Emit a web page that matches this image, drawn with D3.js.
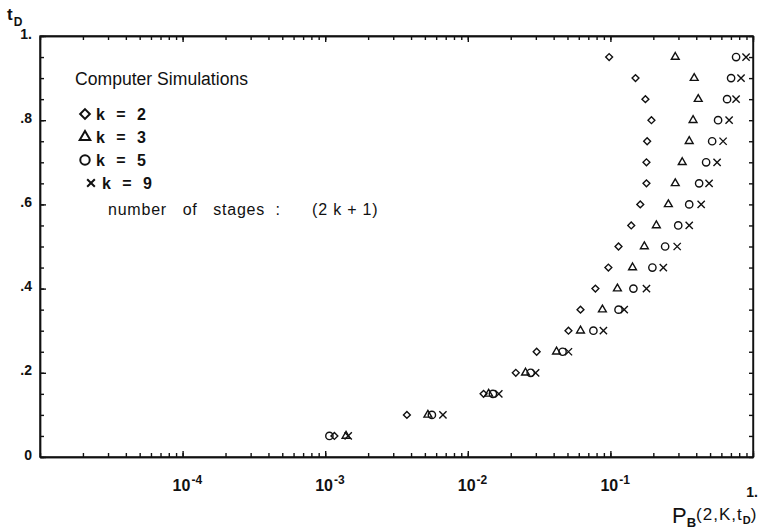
<!DOCTYPE html>
<head>
	<meta charset="utf-8">
	<title>Computer Simulations</title>
<style>
	body {
		margin:0;
		background-color:#ffffff;
	}
	svg {
		display:block;
		font-family:"Liberation Sans", Arial, sans-serif;
	}
	.axis path, .axis line {
		stroke:#111;
		stroke-width:1.4px;
	}
	.axis text {
		font-size:14px;
		font-weight:bold;
		fill:#111;
	}
	.mark {
		fill:none;
		stroke:#111;
		stroke-width:1.4px;
	}
	.lbl {
		fill:#111;
	}
</style>
</head>
<body>
<script src="https://cdn.jsdelivr.net/npm/d3@7"></script>
<script>
	var width = 773;
	var height = 529;

	// t_D values of the simulation rows
	var tD = [0.05, 0.10, 0.15, 0.20, 0.25, 0.30, 0.35, 0.40, 0.45, 0.50,
	          0.55, 0.60, 0.65, 0.70, 0.75, 0.80, 0.85, 0.90, 0.95];

	// P_B(2,k,t_D), one array per k
	var pK2 = [0.00116, 0.00374, 0.0129, 0.0217, 0.0304, 0.0508, 0.0617, 0.0785, 0.0968, 0.114,
	           0.140, 0.162, 0.179, 0.179, 0.181, 0.194, 0.176, 0.150, 0.098];
	var pK3 = [0.00140, 0.00525, 0.0140, 0.0254, 0.0419, 0.0617, 0.0879, 0.112, 0.143, 0.173,
	           0.210, 0.255, 0.285, 0.319, 0.357, 0.380, 0.413, 0.387, 0.285];
	var pK5 = [0.00107, 0.00560, 0.0150, 0.0276, 0.0462, 0.0760, 0.114, 0.145, 0.197, 0.242,
	           0.299, 0.357, 0.419, 0.469, 0.517, 0.569, 0.658, 0.702, 0.761];
	var pK9 = [0.00145, 0.00669, 0.0165, 0.0299, 0.0508, 0.0893, 0.125, 0.179, 0.235, 0.294,
	           0.357, 0.433, 0.492, 0.560, 0.617, 0.680, 0.761, 0.824, 0.894];

	var kValues = [2, 3, 5, 9];

	// tick labels
	var yTickVals = [0, 0.2, 0.4, 0.6, 0.8, 1];
	var yTickLabels = ["0", ".2", ".4", ".6", ".8", "1."];
	var yMinorVals = d3.range(0, 1.0001, 0.05);
	var xTickVals = [1e-4, 1e-3, 1e-2, 1e-1, 1];
	var xTickExps = ["-4", "-3", "-2", "-1", ""];

	var svg = d3.select("body").append("svg")
		.attr("width", width)
		.attr("height", height);

	var x = d3.scaleLog()
		.domain([1e-5, 1])
		.range([40, 753]);

	var y = d3.scaleLinear()
		.domain([0, 1])
		.range([457, 36]);

	var symbols = {
		2: d3.symbol().type(d3.symbolDiamond2).size(30),
		3: d3.symbol().type(d3.symbolTriangle2).size(44),
		5: d3.symbol().type(d3.symbolCircle).size(42),
		9: d3.symbol().type(d3.symbolTimes).size(36)
	};
	var legendSymbols = {
		2: d3.symbol().type(d3.symbolDiamond2).size(60),
		3: d3.symbol().type(d3.symbolTriangle2).size(80),
		5: d3.symbol().type(d3.symbolCircle).size(70),
		9: d3.symbol().type(d3.symbolTimes).size(40)
	};

	// frame
	svg.append("rect")
		.attr("x", 40)
		.attr("y", 36)
		.attr("width", 753 - 40)
		.attr("height", 457 - 36)
		.attr("fill", "none")
		.attr("stroke", "#111")
		.attr("stroke-width", 1.4);

	// bottom and top log ticks (pointing inward)
	var minorX = x.ticks();
	svg.append("g").attr("class", "axis")
		.attr("transform", "translate(0,457)")
		.call(d3.axisBottom(x).tickValues(minorX).tickSizeInner(-4).tickSizeOuter(0).tickFormat(""));
	svg.append("g").attr("class", "axis")
		.attr("transform", "translate(0,457)")
		.call(d3.axisBottom(x).tickValues(xTickVals).tickSizeInner(-6).tickSizeOuter(0).tickFormat(""));
	svg.append("g").attr("class", "axis")
		.attr("transform", "translate(0,36)")
		.call(d3.axisTop(x).tickValues(minorX).tickSizeInner(-4).tickSizeOuter(0).tickFormat(""));
	svg.append("g").attr("class", "axis")
		.attr("transform", "translate(0,36)")
		.call(d3.axisTop(x).tickValues(xTickVals).tickSizeInner(-6).tickSizeOuter(0).tickFormat(""));

	// left axis
	svg.append("g").attr("class", "axis")
		.attr("transform", "translate(40,0)")
		.call(d3.axisLeft(y).tickValues(yMinorVals).tickSizeInner(-4).tickSizeOuter(0).tickFormat(""));
	var yAxisG = svg.append("g").attr("class", "axis")
		.attr("transform", "translate(40,0)")
		.call(d3.axisLeft(y).tickValues(yTickVals).tickSizeInner(-6).tickSizeOuter(0).tickPadding(8)
			.tickFormat(function(d, i) { return yTickLabels[i]; }));
	yAxisG.selectAll("text").attr("dy", "0.15em");

	// right axis
	svg.append("g").attr("class", "axis")
		.attr("transform", "translate(753,0)")
		.call(d3.axisRight(y).tickValues(yMinorVals).tickSizeInner(-4).tickSizeOuter(0).tickFormat(""));

	// x tick labels 10^-n
	var xl = svg.append("g").attr("class", "lbl")
		.style("font-weight", "bold");
	xTickVals.forEach(function(v, i) {
		if (xTickExps[i] === "") {
			xl.append("text")
				.attr("x", x(v) - 1)
				.attr("y", 497)
				.attr("text-anchor", "middle")
				.style("font-size", "14px")
				.text("1.");
		} else {
			var t = xl.append("text")
				.attr("x", x(v) - 10)
				.attr("y", 491)
				.style("font-size", "16px");
			t.append("tspan").text("10");
			t.append("tspan")
				.attr("dy", -7)
				.attr("dx", 1)
				.style("font-size", "12px")
				.text(xTickExps[i]);
		}
	});

	// axis titles
	var yt = svg.append("text").attr("class", "lbl")
		.attr("x", 7)
		.attr("y", 20)
		.style("font-weight", "bold")
		.style("font-size", "17px");
	yt.append("tspan").text("t");
	yt.append("tspan").attr("dy", 6).attr("dx", 1).style("font-size", "12px").text("D");

	var xt = svg.append("text").attr("class", "lbl")
		.attr("x", 672)
		.attr("y", 523)
		.style("font-size", "22px");
	xt.append("tspan").text("P");
	xt.append("tspan").attr("dy", 4).style("font-size", "13px").style("font-weight", "bold").text("B");
	xt.append("tspan").attr("dy", -7).style("font-size", "17px").style("letter-spacing", "1px").text("(2,K,t");
	xt.append("tspan").attr("dy", 4).style("font-size", "11px").style("font-weight", "bold").text("D");
	xt.append("tspan").attr("dy", -4).style("font-size", "17px").text(")");

	// data points
	var series = [pK2, pK3, pK5, pK9];
	series.forEach(function(vals, si) {
		var k = kValues[si];
		svg.append("g").selectAll("path")
			.data(vals)
			.enter().append("path")
			.attr("class", "mark")
			.attr("d", symbols[k])
			.attr("transform", function(d, i) {
				return "translate(" + x(d) + "," + y(tD[i]) + ")";
			});
	});

	// legend
	svg.append("text").attr("class", "lbl")
		.attr("x", 75)
		.attr("y", 85)
		.attr("textLength", 173)
		.attr("lengthAdjust", "spacingAndGlyphs")
		.style("font-size", "18px")
		.text("Computer Simulations");

	var legendY = [114, 137, 160, 183];
	kValues.forEach(function(k, i) {
		svg.append("path")
			.attr("class", "mark")
			.attr("d", legendSymbols[k])
			.attr("transform", "translate(" + (k === 9 ? 91 : 85) + "," + legendY[i] + ")")
			.style("stroke-width", "2px");
		svg.append("text").attr("class", "lbl")
			.attr("x", k === 9 ? 102 : 96)
			.attr("y", legendY[i] + 6)
			.attr("textLength", 50)
			.attr("lengthAdjust", "spacing")
			.style("font-size", "16px")
			.style("font-weight", "bold")
			.text("k = " + k);
	});

	// note line, words spaced like the plotter lettering
	svg.append("text").attr("class", "lbl")
		.attr("x", 108)
		.attr("y", 215)
		.attr("textLength", 270)
		.attr("lengthAdjust", "spacing")
		.style("font-size", "16px")
		.style("white-space", "pre")
		.style("letter-spacing", "0.5px")
		.text("number   of   stages  :      (2 k + 1)");
</script>
</body>
